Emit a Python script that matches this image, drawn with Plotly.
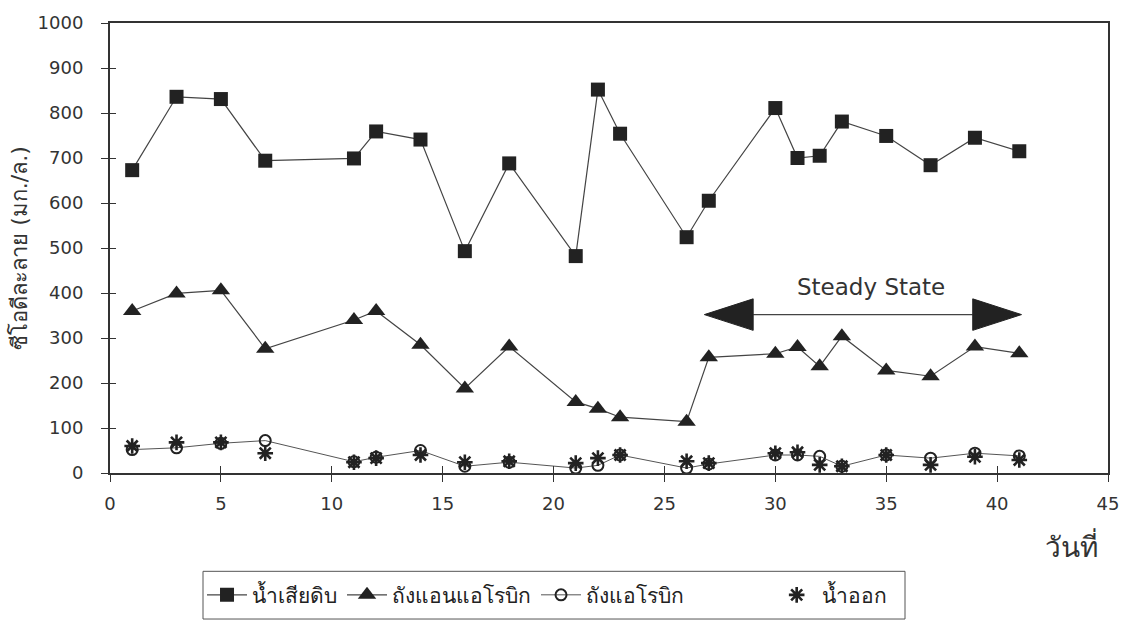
import plotly.graph_objects as go

days = [1, 3, 5, 7, 11, 12, 14, 16, 18, 21, 22, 23, 26, 27, 30, 31, 32, 33, 35, 37, 39, 41]
raw_cod = [673, 836, 831, 694, 699, 759, 741, 493, 688, 482, 852, 754, 524, 605, 811, 700, 705, 781, 749, 684, 745, 715]
anaerobic_cod = [360, 399, 406, 276, 340, 360, 285, 188, 281, 158, 143, 124, 114, 257, 265, 280, 237, 304, 228, 215, 281, 266]
aerobic_cod = [52, 56, 66, 72, 25, 35, 50, 15, 24, 11, 17, 40, 11, 20, 40, 40, 37, 15, 40, 33, 44, 38]
effluent_cod = [60, 68, 68, 44, 24, 33, 40, 24, 26, 22, 33, 40, 26, 22, 44, 46, 18, 15, 40, 18, 36, 29]

series_names = ["น้ำเสียดิบ", "ถังแอนแอโรบิก", "ถังแอโรบิก", "น้ำออก"]
y_title = "ซีโอดีละลาย (มก./ล.)"
x_title = "วันที่"
x_ticks = [0, 5, 10, 15, 20, 25, 30, 35, 40, 45]
y_ticks = [0, 100, 200, 300, 400, 500, 600, 700, 800, 900, 1000]

steady_label = "Steady State"
steady_start, steady_end, steady_level = 26.8, 41.1, 352

FONT = "DejaVu Sans, Liberation Sans, sans-serif"
INK = "#222222"
LINE = "#444444"
TXT = "#333333"

fig = go.Figure()
fig.add_trace(go.Scatter(
    x=days, y=raw_cod, name=series_names[0], mode="lines+markers",
    line=dict(color=LINE, width=1.2),
    marker=dict(symbol="square", size=14, color=INK)))
fig.add_trace(go.Scatter(
    x=days, y=anaerobic_cod, name=series_names[1], mode="lines+markers",
    line=dict(color=LINE, width=1.2),
    marker=dict(symbol="triangle-up", size=16, color=INK)))
fig.add_trace(go.Scatter(
    x=days, y=aerobic_cod, name=series_names[2], mode="lines+markers",
    line=dict(color="#555555", width=1),
    marker=dict(symbol="circle-open", size=11, color=INK, line=dict(width=2, color=INK))))
fig.add_trace(go.Scatter(
    x=days, y=effluent_cod, name=series_names[3], mode="markers", legend="legend2",
    marker=dict(symbol="asterisk-open", size=13, color=INK, line=dict(width=2.6, color=INK))))

# inside half of crossing ticks
fig.add_trace(go.Scatter(x=[None], y=[None], xaxis="x2", yaxis="y2", showlegend=False, hoverinfo="skip"))

# Steady state double arrow
head_len = 2.2
head_half = 35
fig.add_shape(type="line", x0=steady_start + head_len, x1=steady_end - head_len,
              y0=steady_level, y1=steady_level, line=dict(color=LINE, width=1.2))
fig.add_shape(type="path",
              path=f"M {steady_start} {steady_level} L {steady_start + head_len} {steady_level + head_half} "
                   f"L {steady_start + head_len} {steady_level - head_half} Z",
              fillcolor=INK, line=dict(color=INK, width=1))
fig.add_shape(type="path",
              path=f"M {steady_end} {steady_level} L {steady_end - head_len} {steady_level + head_half} "
                   f"L {steady_end - head_len} {steady_level - head_half} Z",
              fillcolor=INK, line=dict(color=INK, width=1))
fig.add_annotation(x=34.3, y=steady_level + 62, text=steady_label,
                   showarrow=False, font=dict(family=FONT, size=23, color=TXT))

fig.add_annotation(xref="paper", yref="paper", x=0.992, y=-0.163, xanchor="right", yanchor="middle",
                   text=x_title, showarrow=False, font=dict(family=FONT, size=28, color=TXT))

# legend frame
fig.add_shape(type="rect", xref="paper", yref="paper", x0=0.0932, x1=0.7966, y0=-0.3245, y1=-0.2185,
              line=dict(color="#555555", width=1), fillcolor="rgba(0,0,0,0)")

axis_common = dict(showgrid=False, zeroline=False, linecolor=TXT, linewidth=2,
                   tickcolor=TXT, tickwidth=1.2, ticklen=7, ticks="outside",
                   tickfont=dict(family=FONT, size=18, color=TXT))

legend_font = dict(family=FONT, size=21, color=INK)

fig.update_layout(
    width=1133, height=642,
    margin=dict(l=110, r=25, t=20, b=169),
    paper_bgcolor="white", plot_bgcolor="white",
    font=dict(family=FONT, color=TXT),
    xaxis=dict(range=[0, 45], tickvals=x_ticks, mirror=True, showline=True,
               ticklabelstandoff=6, **axis_common),
    yaxis=dict(range=[0, 1000], tickvals=y_ticks, mirror=True, showline=True,
               ticklabelstandoff=14,
               title=dict(text=y_title, standoff=4, font=dict(family=FONT, size=22, color=TXT)),
               **axis_common),
    xaxis2=dict(range=[0, 45], tickvals=x_ticks, overlaying="x", side="bottom", showticklabels=False,
                showgrid=False, zeroline=False, showline=False, ticks="inside", ticklen=7,
                tickcolor=TXT, tickwidth=1.2),
    yaxis2=dict(range=[0, 1000], tickvals=y_ticks, overlaying="y", side="left", showticklabels=False,
                showgrid=False, zeroline=False, showline=False, ticks="inside", ticklen=6,
                tickcolor=TXT, tickwidth=1.2),
    legend=dict(orientation="h", x=0.0922, xanchor="left", y=-0.2715, yanchor="middle",
                borderwidth=0, bgcolor="rgba(0,0,0,0)", font=legend_font,
                itemwidth=40, tracegroupgap=0),
    legend2=dict(orientation="h", x=0.663, xanchor="left", y=-0.2715, yanchor="middle",
                 borderwidth=0, bgcolor="rgba(0,0,0,0)", font=legend_font,
                 itemwidth=40, tracegroupgap=0),
    showlegend=True,
)

fig.write_html("out.html")
